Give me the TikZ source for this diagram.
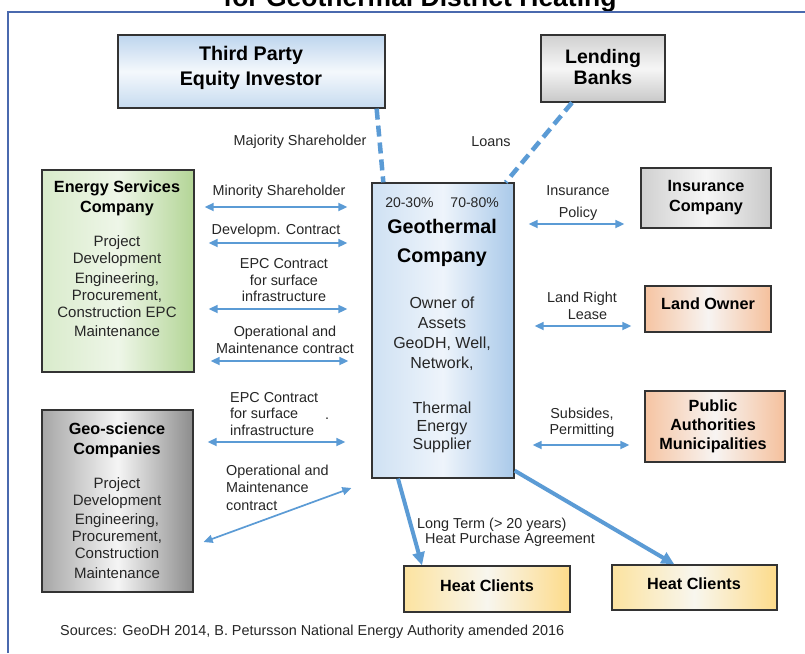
\documentclass[tikz,border=0pt]{standalone}
\usepackage{fontspec}
\setmainfont{Liberation Sans}
\usetikzlibrary{arrows.meta,calc}

\definecolor{arrowblue}{HTML}{5B9BD5}
\definecolor{frameblue}{HTML}{4A69AE}
\definecolor{boxline}{HTML}{333333}
\definecolor{labeltext}{HTML}{262626}
\definecolor{blue1}{HTML}{BDD5EE}
\definecolor{blue2}{HTML}{F4F8FC}
\definecolor{blue3}{HTML}{C6DBF0}
\definecolor{geoL}{HTML}{CFE1F3}
\definecolor{geoM}{HTML}{EEF4FB}
\definecolor{geoR}{HTML}{A9C9E9}
\definecolor{grnL}{HTML}{D9EBCB}
\definecolor{grnM}{HTML}{EEF6E8}
\definecolor{grnR}{HTML}{B3D596}
\definecolor{dgL}{HTML}{A6A6A6}
\definecolor{dgM}{HTML}{F5F5F5}
\definecolor{dgR}{HTML}{8C8C8C}
\definecolor{lgL}{HTML}{D0D0D0}
\definecolor{lgM}{HTML}{F6F6F6}
\definecolor{lgR}{HTML}{C8C8C8}
\definecolor{pchL}{HTML}{F6C4A2}
\definecolor{pchM}{HTML}{F7F4F2}
\definecolor{pchR}{HTML}{F5C09C}
\definecolor{ylwL}{HTML}{FCE3A0}
\definecolor{ylwM}{HTML}{F8F6EE}
\definecolor{ylwR}{HTML}{FDDB8A}

\begin{document}
\begin{tikzpicture}[x=1pt,y=-1pt,
  box/.style={draw=boxline, line width=1.3pt, inner sep=0pt},
  bluebox/.style={box, top color=blue1, bottom color=blue3, middle color=blue2},
  geobox/.style={box, left color=geoL, right color=geoR, middle color=geoM},
  greenbox/.style={box, left color=grnL, right color=grnR, middle color=grnM},
  darkgraybox/.style={box, left color=dgL, right color=dgR, middle color=dgM},
  graybox/.style={box, left color=lgL, right color=lgR, middle color=lgM},
  vgraybox/.style={box, top color=lgL, bottom color=lgR, middle color=lgM},
  peachbox/.style={box, left color=pchL, right color=pchR, middle color=pchM},
  yellowbox/.style={box, left color=ylwL, right color=ylwR, middle color=ylwM},
  lbl/.style={font=\fontsize{14.4}{17}\selectfont, align=center, inner sep=0pt, text=labeltext},
  bigtitle/.style={font=\fontsize{19.7}{25}\selectfont\bfseries, align=center, inner sep=0pt},
  title/.style={font=\fontsize{16.2}{20}\selectfont\bfseries, align=center, inner sep=0pt},
  body/.style={font=\fontsize{15}{17}\selectfont, align=center, inner sep=0pt, text=labeltext},
  biarrow/.style={draw=arrowblue, line width=1.7pt,
    {Triangle[length=9pt,width=8pt]}-{Triangle[length=9pt,width=8pt]}},
  thickarrow/.style={draw=arrowblue, line width=4pt, -{Triangle[length=13pt,width=12pt]}},
  dashlink/.style={draw=arrowblue, line width=4.5pt, dash pattern=on 11pt off 6pt},
  frame/.style={draw=frameblue, line width=2.5pt}
]

\clip (0,0) rectangle (805,653);
\fill[white] (0,0) rectangle (805,653);

% heading, partly above the page edge
\node[font=\fontsize{26.5}{30}\selectfont\bfseries, anchor=base, inner sep=0pt] (heading) at (420,6) {for Geothermal District Heating};

% outer frame
\draw[frame] (8,653) -- (8,12) -- (805,12);

% ---------- boxes ----------
\node[bluebox, minimum width=267pt, minimum height=73pt] (tp) at (251.5,71.5) {};
\node[vgraybox, minimum width=124pt, minimum height=67pt] (lb) at (603,68.5) {};
\node[geobox, minimum width=142pt, minimum height=295pt] (geo) at (443,330.5) {};
\node[greenbox, minimum width=152pt, minimum height=202pt] (esc) at (118,271) {};
\node[darkgraybox, minimum width=151pt, minimum height=182pt] (gsc) at (117.5,501) {};
\node[graybox, minimum width=130pt, minimum height=60pt] (ins) at (706,198) {};
\node[peachbox, minimum width=126pt, minimum height=46pt] (land) at (708,309) {};
\node[peachbox, minimum width=140pt, minimum height=71pt] (pub) at (715,426.5) {};
\node[yellowbox, minimum width=166pt, minimum height=46pt] (hc1) at (487,589) {};
\node[yellowbox, minimum width=165pt, minimum height=45pt] (hc2) at (694.5,587.5) {};

% ---------- box texts ----------
\node[bigtitle] (tpT) at (251,67.5) {Third Party\\Equity Investor};
\node[bigtitle, font=\fontsize{19.5}{20.5}\selectfont\bfseries] (lbT) at (603,67) {Lending\\Banks};

\node[font=\fontsize{14}{17}\selectfont, inner sep=0pt, text=labeltext] (geoP) at (442,203) {20-30\%\hspace{17pt}70-80\%};
\node[bigtitle, font=\fontsize{19.7}{29}\selectfont\bfseries] (geoT) at (442,242.5) {Geothermal\\Company};
\node[body, font=\fontsize{16}{20}\selectfont] (geoA) at (442,334) {Owner of\\Assets\\GeoDH, Well,\\Network,};
\node[body, font=\fontsize{16}{18}\selectfont] (geoB) at (442,427) {Thermal\\Energy\\Supplier};

\node[title] (escT) at (117,198) {Energy Services\\Company};
\node[body] (escB) at (117,286) {Project\\Development\\[2.5pt]Engineering,\\Procurement,\\Construction EPC\\[2pt]Maintenance};

\node[title] (gscT) at (117,440) {Geo-science\\Companies};
\node[body] (gscB) at (117,528.5) {Project\\Development\\[2pt]Engineering,\\Procurement,\\Construction\\[3pt]Maintenance};

\node[title, font=\fontsize{16.2}{19.5}\selectfont\bfseries] (insT) at (706,197.5) {Insurance\\Company};
\node[title] (landT) at (708,304) {Land Owner};
\node[title, font=\fontsize{16.2}{19}\selectfont\bfseries] (pubT) at (713,426) {Public\\Authorities\\Municipalities};
\node[title] (hc1T) at (487,586) {Heat Clients};
\node[title] (hc2T) at (694,584) {Heat Clients};

% ---------- dashed ownership / finance links ----------
\draw[dashlink] ([xshift=-9pt]tp.south east) -- ([xshift=12pt]geo.north west);
\draw[dashlink] ([xshift=-31pt]lb.south) -- ([xshift=-9pt]geo.north east);
\node[lbl] (majL) at (300,142) {Majority Shareholder};
\node[lbl] (loanL) at (491,142) {Loans};

% ---------- contracts with the energy services company ----------
\draw[biarrow] ($(esc.east |- 0,207)+(10,0)$) -- ($(geo.west |- 0,207)+(-24,0)$);
\draw[biarrow] ($(esc.east |- 0,243)+(14,0)$) -- ($(geo.west |- 0,243)+(-24,0)$);
\draw[biarrow] ($(esc.east |- 0,309)+(14,0)$) -- ($(geo.west |- 0,309)+(-24,0)$);
\draw[biarrow] ($(esc.east |- 0,361)+(16,0)$) -- ($(geo.west |- 0,361)+(-23,0)$);
\node[lbl] (minL) at (279,192) {Minority Shareholder};
\node[lbl] (devL) at (276,231) {Developm. Contract};
\node[lbl, font=\fontsize{14.4}{16.5}\selectfont] (epcL) at (284,280.5) {EPC Contract\\for surface\\infrastructure};
\node[lbl] (omL) at (285,339.5) {Operational and\\Maintenance contract};

% ---------- contracts with the geo-science companies ----------
\draw[biarrow] ($(gsc.east |- 0,442)+(14,0)$) -- ($(geo.west |- 0,442)+(-26,0)$);
\draw[biarrow] ($(gsc.east |- 0,542)+(10,0)$) -- ($(geo.west |- 0,488)+(-20,0)$);
\node[lbl, align=left, anchor=west, font=\fontsize{14.4}{16.5}\selectfont] (epc2L) at (230,414) {EPC Contract\\for surface\\infrastructure};
\node[lbl, anchor=base] (dotL) at (327,419) {.};
\node[lbl, align=left, anchor=west, font=\fontsize{14.4}{17.5}\selectfont] (om2L) at (226,487.5) {Operational and\\Maintenance\\contract};

% ---------- right-hand partners ----------
\draw[biarrow] ($(geo.east |- 0,224)+(14,0)$) -- ($(ins.west |- 0,224)+(-16,0)$);
\draw[biarrow] ($(geo.east |- 0,326)+(20,0)$) -- ($(land.west |- 0,326)+(-13,0)$);
\draw[biarrow] ($(geo.east |- 0,445)+(18,0)$) -- ($(pub.west |- 0,445)+(-15,0)$);
\node[lbl, font=\fontsize{14.4}{22}\selectfont] (insL) at (578,203) {Insurance\\Policy};
\node[lbl] (landL) at (582,305.5) {Land Right\\\hspace*{11pt}Lease};
\node[lbl, font=\fontsize{14.4}{16.5}\selectfont] (subL) at (582,423) {Subsides,\\Permitting};

% ---------- heat supply ----------
\draw[thickarrow] ([xshift=-45pt]geo.south) -- ([xshift=-65pt]hc1.north);
\draw[thickarrow] ([yshift=8pt]geo.south east) -- ([xshift=63pt]hc2.north west);
\node[lbl, anchor=west] (ltL) at (417,525) {Long Term (> 20 years)};
\node[lbl, anchor=west] (hpaL) at (425,540) {Heat Purchase Agreement};

% ---------- sources ----------
\node[lbl, anchor=west] (src) at (60,632) {Sources: GeoDH 2014, B. Petursson National Energy Authority amended 2016};

\end{tikzpicture}
\end{document}
